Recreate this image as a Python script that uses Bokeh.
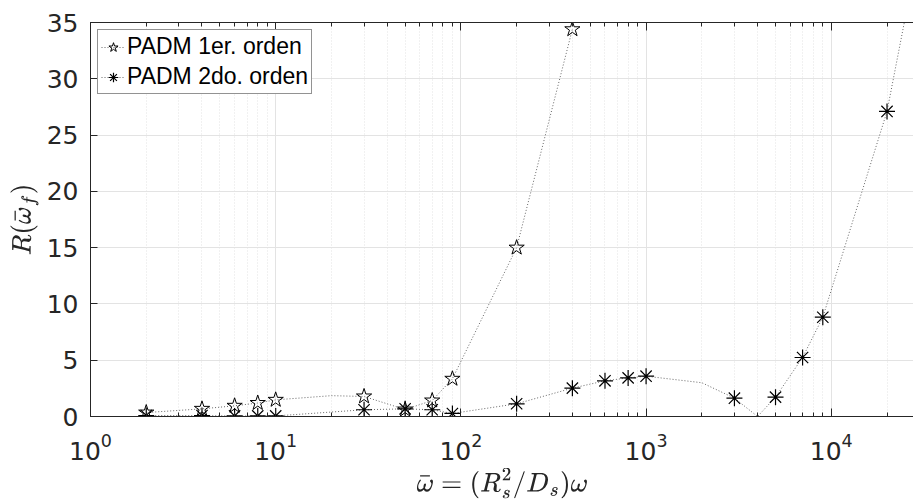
from bokeh.plotting import figure
from bokeh.models import (LogAxis, Range1d, LogTicker, FixedTicker, Legend, LegendItem,
                          CustomJSTickFormatter, LogTickFormatter)
from bokeh.embed import file_html
from bokeh.resources import INLINE

# ---- data ----
x_1er = [2, 4, 6, 8, 10, 20, 30, 50, 70, 90, 200, 400]
r_1er = [0.35, 0.68, 0.95, 1.2, 1.48, 1.85, 1.78, 0.62, 1.42, 3.35, 15.0, 34.4]
x_1er_marcas = [2, 4, 6, 8, 10, 30, 50, 70, 90, 200, 400]

x_2do = [2, 4, 6, 8, 10, 30, 50, 70, 90, 200, 400, 600, 800, 1000, 2000, 3000,
         4000, 5000, 7000, 9000, 20000, 30000]
r_2do = [0.09, 0.08, 0.05, 0.05, 0.05, 0.6, 0.68, 0.6, 0.27, 1.13, 2.52, 3.17, 3.43,
         3.58, 3.0, 1.63, 0.0, 1.72, 5.24, 8.82, 27.1, 42.0]
x_2do_marcas = [2, 4, 6, 8, 10, 30, 50, 70, 90, 200, 400, 600, 800, 1000, 3000,
                5000, 7000, 9000, 20000]

y_ticks = [0, 5, 10, 15, 20, 25, 30, 35]
x_lim = (1, 27800)
y_lim = (0, 35)

labels = ["PADM 1er. orden", "PADM 2do. orden"]

AX = "#262626"
GRID = "#e3e3e3"

p = figure(width=913, height=501, x_axis_type="log",
           x_range=Range1d(*x_lim), y_range=Range1d(*y_lim),
           output_backend="svg", toolbar_location=None,
           min_border_left=90, min_border_right=0, min_border_top=22, min_border_bottom=84,
           x_axis_label=r"$$\bar{\omega} = (R_s^2/D_s)\omega$$",
           y_axis_label=r"$$R(\bar{\omega}_f)$$")
p.outline_line_color = None
p.background_fill_color = "white"
p.border_fill_color = "white"

xa = p.xaxis[0]
xa.ticker = LogTicker(num_minor_ticks=10)
xa.formatter = LogTickFormatter()
ya = p.yaxis[0]
ya.ticker = FixedTicker(ticks=y_ticks, minor_ticks=[])

for ax in (xa, ya):
    ax.axis_line_color = AX
    ax.major_tick_line_color = AX
    ax.minor_tick_line_color = AX
    ax.major_tick_out = 0
    ax.minor_tick_out = 0
    ax.major_label_text_font = "DejaVu Sans"
    ax.major_label_text_font_size = "25px"
    ax.major_label_text_color = AX
    ax.axis_label_text_font_size = "22px"
    ax.axis_label_text_color = AX
    ax.axis_label_text_font_style = "normal"
xa.major_tick_in = 8
xa.minor_tick_in = 4
xa.major_label_standoff = 16
xa.axis_label_standoff = 5
ya.major_tick_in = 7
ya.minor_tick_in = 0
ya.major_label_standoff = 12
ya.axis_label_standoff = 5

top = LogAxis(ticker=LogTicker(num_minor_ticks=10),
              formatter=CustomJSTickFormatter(code="return ''"))
top.axis_line_color = AX
top.major_tick_line_color = AX
top.minor_tick_line_color = AX
top.major_tick_in = 8
top.major_tick_out = 0
top.minor_tick_in = 4
top.minor_tick_out = 0
top.major_label_standoff = 0
top.major_label_text_font_size = "1px"
p.add_layout(top, "above")

p.xgrid.grid_line_color = GRID
p.xgrid.minor_grid_line_color = GRID
p.xgrid.minor_grid_line_dash = "1 2"
p.ygrid.grid_line_color = GRID
p.ygrid.ticker = FixedTicker(ticks=y_ticks)

# lines
l1 = p.line(x_1er, r_1er, line_color="#666666", line_width=1, line_dash="1 2")
l2 = p.line(x_2do, r_2do, line_color="#666666", line_width=1, line_dash="1 2")

m1x = [x for x in x_1er if x in x_1er_marcas]
m1y = [r for x, r in zip(x_1er, r_1er) if x in x_1er_marcas]
m2x = [x for x in x_2do if x in x_2do_marcas]
m2y = [r for x, r in zip(x_2do, r_2do) if x in x_2do_marcas]

s1 = p.scatter(m1x, m1y, marker="star", size=16, fill_color=None,
               line_color="black", line_width=1)
s2 = p.scatter(m2x, m2y, marker="asterisk", size=16,
               line_color="black", line_width=1.2)

leg = Legend(items=[LegendItem(label=labels[0], renderers=[l1, s1]),
                    LegendItem(label=labels[1], renderers=[l2, s2])],
             location="top_left")
leg.label_text_font = "Liberation Sans"
leg.label_text_font_size = "23px"
leg.label_text_color = "black"
leg.border_line_color = AX
leg.border_line_width = 1
leg.background_fill_color = "white"
leg.background_fill_alpha = 1
leg.margin = 7
leg.padding = 3
leg.spacing = 3
leg.glyph_width = 24
leg.glyph_height = 24
leg.label_height = 24
leg.label_standoff = 2
p.add_layout(leg)

open("out.html", "w").write(file_html(p, INLINE))
